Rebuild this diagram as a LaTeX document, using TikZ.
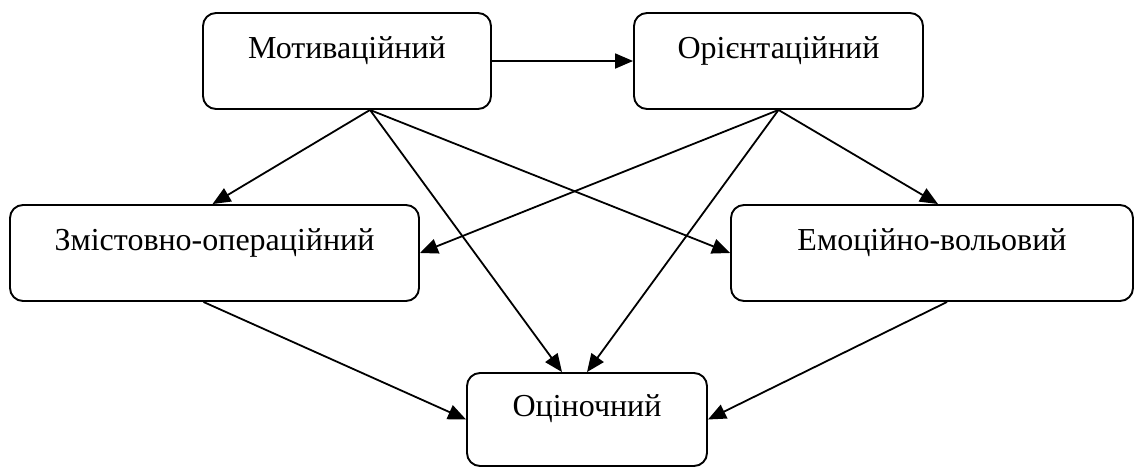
\documentclass[tikz,border=0pt]{standalone}
\usepackage{fontspec}
\setmainfont{Liberation Serif}
\usetikzlibrary{arrows.meta}
\usetikzlibrary{calc}

\begin{document}
\begin{tikzpicture}[x=1pt,y=-1pt,inner sep=0pt,>={Triangle[length=18pt,width=15pt]},
  comp/.style={draw,line width=1.9pt,rounded corners=13pt,font=\fontsize{32}{36}\selectfont,text height=22pt,text depth=28pt},
  link/.style={->,line width=1.8pt}]
\useasboundingbox (0,0) rectangle (1134,467);
\draw node [comp,minimum width=288pt,minimum height=96pt] (Mot) at (347,61)    {Мотиваційний};
\draw node [comp,minimum width=289pt,minimum height=96pt] (Ori) at (778.5,61)  {Орієнтаційний};
\draw node [comp,minimum width=409pt,minimum height=96pt] (Zmi) at (214.5,253) {Змістовно-операційний};
\draw node [comp,minimum width=402pt,minimum height=96pt] (Emo) at (932,253)   {Емоційно-вольовий};
\draw node [comp,minimum width=240pt,minimum height=93pt] (Ots) at (587,419.5) {Оціночний};
\draw [link] (Mot.east) -- (Ori.west);
\draw [link] ([xshift=23pt]Mot.south) -- ([xshift=-2pt]Zmi.north);
\draw [link] ([xshift=23pt]Mot.south) -- ([xshift=-25pt]Ots.north);
\draw [link] ([xshift=23pt]Mot.south) -- (Emo.west);
\draw [link] (Ori.south) -- (Zmi.east);
\draw [link] (Ori.south) -- (Ots.north);
\draw [link] (Ori.south) -- ([xshift=6pt]Emo.north);
\draw [link] ([xshift=-11pt]Zmi.south) -- (Ots.west);
\draw [link] ([xshift=15pt]Emo.south) -- (Ots.east);
\end{tikzpicture}
\end{document}
